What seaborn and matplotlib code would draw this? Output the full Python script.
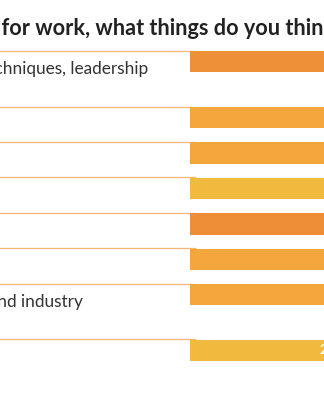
import matplotlib
matplotlib.use("Agg")
import matplotlib.pyplot as plt
import seaborn as sns
import pandas as pd
import numpy as np

# ---- data ----
title_text = "When it comes to training for work, what things do you think you need most?"
title_visible_from = "for work,"
labels = [
    "Soft skills: communication techniques, leadership\nand teamwork",
    "Technical skills for my job",
    "Digital and IT skills",
    "Foreign languages",
    "Project management",
    "Health and safety",
    "Knowledge of my company and industry\ntrends",
    "Sales and customer service",
]
values = [41, 36, 35, 33, 32, 31, 30, 27]
colors = ["#EE9038", "#F2A63B", "#F2A63B", "#F0BA3F",
          "#EE8F37", "#F2A63B", "#F2A63B", "#F0BA3F"]

# ---- layout (pixels) ----
W, H = 324, 400
fig = plt.figure(figsize=(W / 100, H / 100), dpi=100)
sns.set_style("white")
plt.rcParams["font.family"] = ["Lato", "DejaVu Sans"]

bar_left_px = 190.5
px_per_unit = 6.0
xmax = 50
axes_w_px = xmax * px_per_unit

bg = fig.add_axes([0, 0, 1, 1], zorder=0)
bg.set_xlim(0, W)
bg.set_ylim(H, 0)
bg.axis("off")

ax = fig.add_axes([bar_left_px / W, 0, axes_w_px / W, 1], zorder=1)
ax.patch.set_alpha(0)

# row geometry derived from label line counts
first_top = 50.8
base_row = 35.4
extra_line = 20.4
bar_h = 21.3
nlines = [lab.count("\n") + 1 for lab in labels]
tops = []
t = first_top
for n in nlines:
    tops.append(t)
    t += base_row + extra_line * (n - 1)
tops = np.array(tops)
centers = tops + 0.4 + bar_h / 2

df = pd.DataFrame({"label": labels, "value": values, "ypos": centers})
sns.barplot(data=df, x="value", y="ypos", hue="label", orient="h",
            native_scale=True, palette=dict(zip(labels, colors)),
            width=bar_h / base_row, dodge=False, legend=False,
            saturation=1, ax=ax, linewidth=0)
ax.set_xlim(0, xmax)
ax.set_ylim(H, 0)
ax.axis("off")

# value labels
for v, c in zip(values, centers):
    ax.text(v - 1.0, c, f"{v}%", color="white", fontweight="bold",
            fontsize=10, ha="right", va="center")

# separator lines
for tp in tops:
    bg.plot([-5, bar_left_px + 5], [tp, tp], color="#F4B777", lw=0.9,
            solid_capstyle="butt")

renderer = fig.canvas.get_renderer()

def width_px(s, **kw):
    tt = bg.text(0, 0, s, **kw)
    w = tt.get_window_extent(renderer).width
    tt.remove()
    return w

# title positioned so visible part starts at x=2
tkw = dict(fontsize=15.6, fontweight="bold", color="#222222")
idx = title_text.index(title_visible_from)
w_full = width_px(title_text, **tkw)
w_suffix = width_px(title_text[idx:], **tkw)
title_x = 2 - (w_full - w_suffix)
bg.text(title_x, 35, title_text, ha="left", va="baseline", **tkw)

# row labels: common left edge so that row 1 first line ends at x=148
lkw = dict(fontsize=12.4, color="#333333")
first_line = labels[0].split("\n")[0]
label_x = 148 - width_px(first_line, **lkw)
for lab, tp in zip(labels, tops):
    for i, line in enumerate(lab.split("\n")):
        bg.text(label_x, tp + 23.5 + i * extra_line, line,
                ha="left", va="baseline", **lkw)

fig.savefig("out.png", dpi=100)
